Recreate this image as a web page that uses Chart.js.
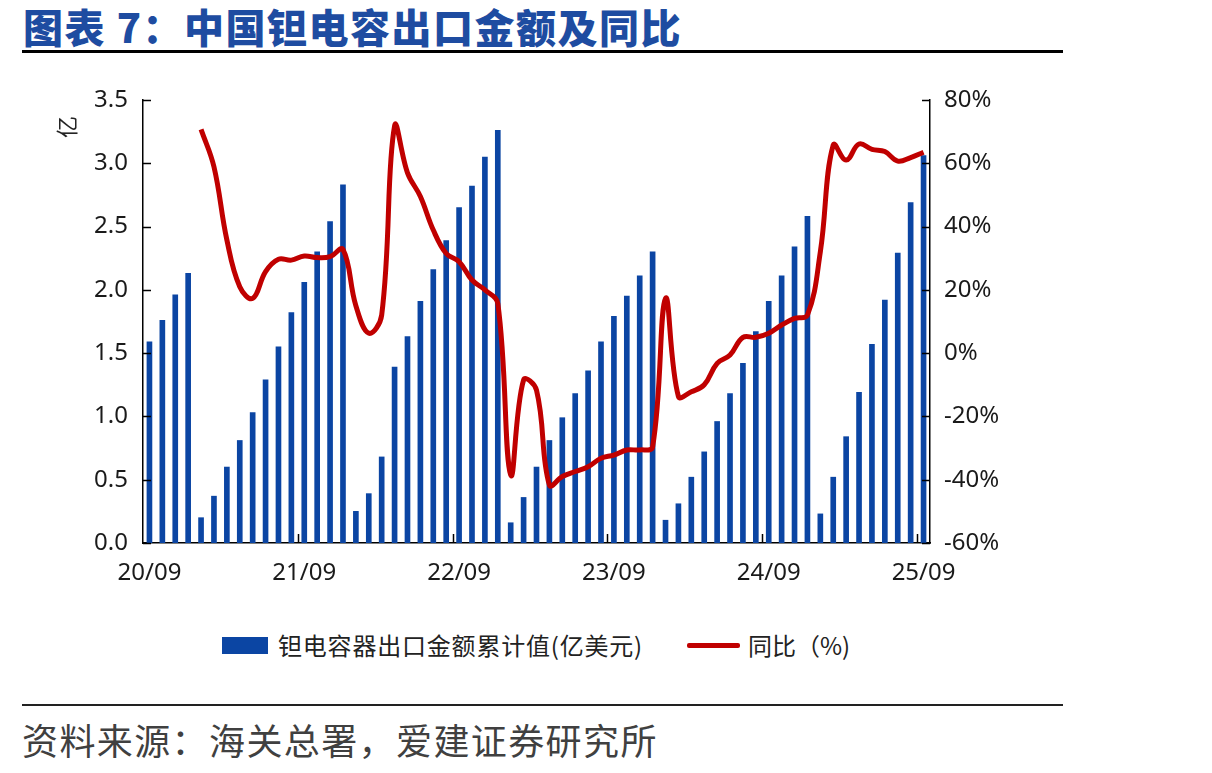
<!DOCTYPE html>
<html>
<head>
<meta charset="utf-8">
<script src="https://cdn.jsdelivr.net/npm/chart.js@4.4.1/dist/chart.umd.min.js"></script>
<style>
  html, body { margin: 0; padding: 0; background: #ffffff; }
  body { width: 1212px; height: 773px; position: relative; overflow: hidden; font-family: "Noto Sans CJK SC", "Noto Sans", sans-serif; }
  #title { position: absolute; left: 23px; top: 2px; font-size: 40px; line-height: 48px; font-weight: 900; color: #1E4CA1; letter-spacing: 1.5px; white-space: nowrap; }
  #topRule { position: absolute; left: 22px; top: 50px; width: 1041px; height: 3px; background: #000; }
  #bottomRule { position: absolute; left: 22px; top: 704px; width: 1041px; height: 2px; background: #222; }
  #source { position: absolute; left: 22px; top: 718px; font-size: 36px; line-height: 42px; color: #404040; letter-spacing: 1.4px; white-space: nowrap; }
  #chartBox { position: absolute; left: 0; top: 0; width: 1060px; height: 600px; }
  #unit { position: absolute; left: 54px; top: 116px; font-size: 22px; line-height: 22px; color: #222; transform: rotate(-90deg); transform-origin: center center; }
  .legend { position: absolute; top: 628px; font-size: 24px; line-height: 34px; color: #222; white-space: nowrap; }
  #lgBarBox { position: absolute; left: 222px; top: 637px; width: 46px; height: 17px; background: #0B45A3; }
  #lgLine { position: absolute; left: 687px; top: 643px; width: 53px; height: 5px; background: #C00000; border-radius: 2px; }
</style>
</head>
<body>
<div id="title">图表 7：中国钽电容出口金额及同比</div>
<div id="topRule"></div>
<div id="chartBox"><canvas id="c" width="1060" height="600"></canvas></div>
<div id="unit">亿</div>
<div id="lgBarBox"></div>
<div class="legend" style="left:278px; letter-spacing:0.8px;">钽电容器出口金额累计值(亿美元)</div>
<div id="lgLine"></div>
<div class="legend" style="left:748px;">同比（%)</div>
<div id="bottomRule"></div>
<div id="source">资料来源：海关总署，爱建证券研究所</div>
<script>
const months = [
  "20/09","20/10","20/11","20/12",
  "21/01","21/02","21/03","21/04","21/05","21/06","21/07","21/08","21/09","21/10","21/11","21/12",
  "22/01","22/02","22/03","22/04","22/05","22/06","22/07","22/08","22/09","22/10","22/11","22/12",
  "23/01","23/02","23/03","23/04","23/05","23/06","23/07","23/08","23/09","23/10","23/11","23/12",
  "24/01","24/02","24/03","24/04","24/05","24/06","24/07","24/08","24/09","24/10","24/11","24/12",
  "25/01","25/02","25/03","25/04","25/05","25/06","25/07","25/08","25/09"
];
const shownMonthLabels = ["20/09","21/09","22/09","23/09","24/09","25/09"];

const exportCumulative = [
  1.59, 1.76, 1.96, 2.13,
  0.20, 0.37, 0.60, 0.81, 1.03, 1.29, 1.55, 1.82, 2.06, 2.30, 2.54, 2.83,
  0.25, 0.39, 0.68, 1.39, 1.63, 1.91, 2.16, 2.39, 2.65, 2.82, 3.05, 3.26,
  0.16, 0.36, 0.60, 0.81, 0.99, 1.18, 1.36, 1.59, 1.79, 1.95, 2.11, 2.30,
  0.18, 0.31, 0.52, 0.72, 0.96, 1.18, 1.42, 1.67, 1.91, 2.11, 2.34, 2.58,
  0.23, 0.52, 0.84, 1.19, 1.57, 1.92, 2.29, 2.69, 3.06
];

const yoyPercent = [
  null, null, null, null,
  70.7, 58.9, 35.8, 21.0, 17.3, 25.8, 29.7, 29.4, 30.7, 30.2, 30.5, 32.8,
  15.0, 6.3, 12.0, 71.8, 57.0, 49.5, 38.9, 31.5, 28.9, 23.1, 20.0, 15.7,
  -38.5, -8.5, -11.7, -41.7, -39.0, -37.4, -35.9, -33.2, -32.2, -30.6, -30.6, -29.6,
  17.3, -13.7, -12.2, -10.0, -3.2, -0.6, 5.0, 5.0, 6.3, 8.9, 11.0, 12.0,
  32.0, 65.8, 61.0, 66.1, 64.4, 63.7, 60.7, 61.8, 63.5
];

const leftTicks = [0, 0.5, 1.0, 1.5, 2.0, 2.5, 3.0, 3.5];
const rightTicks = [-60, -40, -20, 0, 20, 40, 60, 80];

const tickFont = { family: "'Noto Sans', 'DejaVu Sans', sans-serif", size: 24 };
const tickColor = '#1a1a1a';

const innerTicks = {
  id: 'innerTicks',
  afterDraw(chart) {
    const ctx = chart.ctx;
    const area = chart.chartArea;
    const y = chart.scales.y, y1 = chart.scales.y1, x = chart.scales.x;
    ctx.save();
    ctx.strokeStyle = '#000';
    ctx.lineWidth = 1.5;
    ctx.beginPath();
    y.ticks.forEach((t, i) => {
      const py = Math.round(y.getPixelForTick(i)) + 0.5;
      ctx.moveTo(area.left, py); ctx.lineTo(area.left + 8, py);
    });
    y1.ticks.forEach((t, i) => {
      const py = Math.round(y1.getPixelForTick(i)) + 0.5;
      ctx.moveTo(area.right - 8, py); ctx.lineTo(area.right, py);
    });
    const half = (x.getPixelForValue(1) - x.getPixelForValue(0)) / 2;
    months.forEach((m, i) => {
      if (i > 0 && shownMonthLabels.includes(m)) {
        const px = Math.round(x.getPixelForValue(i) - half) + 0.5;
        ctx.moveTo(px, area.bottom); ctx.lineTo(px, area.bottom - 9);
      }
    });
    ctx.stroke();
    ctx.restore();
  }
};

new Chart(document.getElementById('c'), {
  data: {
    labels: months,
    datasets: [
      {
        type: 'line',
        label: '同比（%)',
        data: yoyPercent,
        yAxisID: 'y1',
        borderColor: '#C00000',
        backgroundColor: '#C00000',
        borderWidth: 5,
        tension: 0.4,
        pointRadius: 0,
        order: 0
      },
      {
        type: 'bar',
        label: '钽电容器出口金额累计值(亿美元)',
        data: exportCumulative,
        yAxisID: 'y',
        backgroundColor: '#0B45A3',
        barThickness: 5,
        order: 1
      }
    ]
  },
  options: {
    responsive: false,
    maintainAspectRatio: false,
    animation: false,
    layout: { padding: { top: 100, left: 0, right: 0, bottom: 0 } },
    plugins: { legend: { display: false }, tooltip: { enabled: false } },
    scales: {
      x: {
        type: 'category',
        offset: true,
        afterFit(s) { s.height = 57; },
        grid: { display: false, drawTicks: false },
        border: { display: true, color: '#000', width: 1.5 },
        ticks: {
          autoSkip: false,
          maxRotation: 0,
          padding: 16,
          font: tickFont,
          color: tickColor,
          callback(v, i) { const m = months[i]; return shownMonthLabels.includes(m) ? m : ''; }
        }
      },
      y: {
        position: 'left',
        min: leftTicks[0],
        max: leftTicks[leftTicks.length - 1],
        afterFit(s) { s.width = 143; },
        afterBuildTicks(s) { s.ticks = leftTicks.map(v => ({ value: v })); },
        grid: { display: false, drawTicks: false },
        border: { display: true, color: '#000', width: 1.5 },
        ticks: { padding: 15, font: tickFont, color: tickColor, callback: v => Number(v).toFixed(1) }
      },
      y1: {
        position: 'right',
        min: rightTicks[0],
        max: rightTicks[rightTicks.length - 1],
        afterFit(s) { s.width = 130; },
        afterBuildTicks(s) { s.ticks = rightTicks.map(v => ({ value: v })); },
        grid: { display: false, drawTicks: false },
        border: { display: true, color: '#000', width: 1.5 },
        ticks: { padding: 14, font: tickFont, color: tickColor, callback: v => v + '%' }
      }
    }
  },
  plugins: [innerTicks]
});
</script>
</body>
</html>
